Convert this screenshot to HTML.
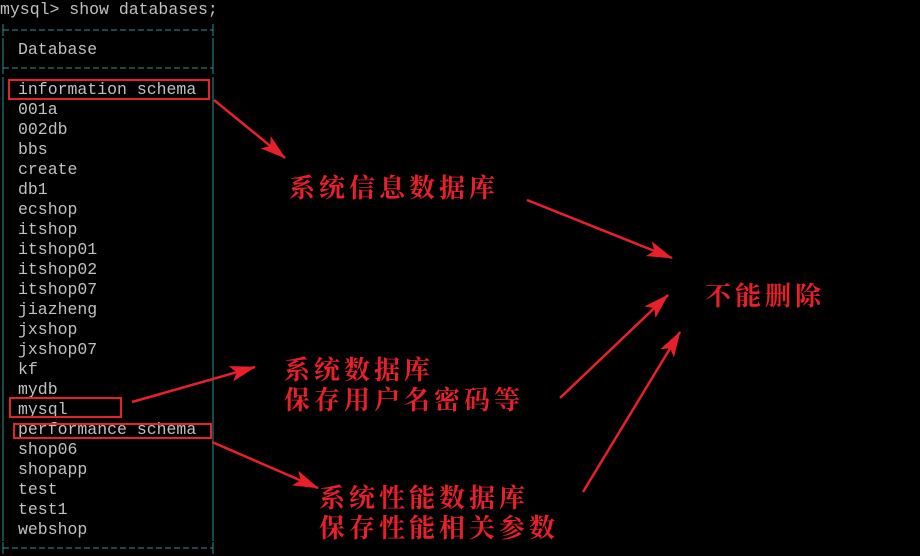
<!DOCTYPE html>
<html><head><meta charset="utf-8"><style>
body{margin:0;width:920px;height:556px;background:#000;overflow:hidden;position:relative;font-family:"Liberation Mono",monospace;}
.t{position:absolute;color:#c0c0c0;font-size:16.5px;line-height:20px;white-space:pre;}
.c{position:absolute;color:#e8202a;font-family:"Noto Serif CJK SC",serif;font-weight:bold;font-size:26px;letter-spacing:4px;line-height:30px;white-space:pre;}
svg{position:absolute;left:0;top:0;}
</style></head><body>
<div class="t" style="left:0;top:0">mysql&gt; show databases;</div>
<div class="t" style="left:18px;top:40px">Database</div>
<div class="t" style="left:18px;top:80px">information schema
001a
002db
bbs
create
db1
ecshop
itshop
itshop01
itshop02
itshop07
jiazheng
jxshop
jxshop07
kf
mydb
mysql
performance schema
shop06
shopapp
test
test1
webshop</div>
<svg width="920" height="556">
<g stroke="#2a8f90" stroke-width="1">
<line x1="3" y1="30" x2="213" y2="30" stroke-dasharray="6,3"/>
<line x1="3" y1="68" x2="213" y2="68" stroke-dasharray="6,3"/>
<line x1="3" y1="548" x2="213" y2="548" stroke-dasharray="6,3"/>
<line x1="3" y1="24" x2="3" y2="36"/><line x1="213" y1="24" x2="213" y2="36"/>
<line x1="3" y1="38" x2="3" y2="62"/><line x1="213" y1="38" x2="213" y2="62"/>
<line x1="3" y1="77" x2="3" y2="541"/><line x1="213" y1="77" x2="213" y2="541"/>
<line x1="3" y1="62" x2="3" y2="74"/><line x1="213" y1="62" x2="213" y2="74"/>
<line x1="3" y1="542" x2="3" y2="554"/><line x1="213" y1="542" x2="213" y2="554"/>
</g>
<g fill="none" stroke="#e8202a" stroke-width="2">
<rect x="9" y="80" width="200" height="19"/>
<rect x="10" y="398" width="111" height="19"/>
<rect x="14" y="424" width="197" height="14"/>
</g>
<defs>
<marker id="b" markerWidth="26" markerHeight="16" refX="25" refY="8" orient="auto" markerUnits="userSpaceOnUse"><path d="M0,0 L26,8 L0,16 L6,8 z" fill="#e8202a"/></marker></defs>
<g stroke="#e8202a" stroke-width="2.5" marker-end="url(#b)">
<line x1="214" y1="100" x2="285" y2="158"/>
<line x1="527" y1="200" x2="672" y2="258"/>
<line x1="560" y1="398" x2="668" y2="295"/>
<line x1="583" y1="492" x2="680" y2="332"/>
<line x1="132" y1="402" x2="255" y2="367"/>
<line x1="212" y1="442" x2="318" y2="488"/>
</g>
</svg>
<div class="c" style="left:289px;top:172px">系统信息数据库</div>
<div class="c" style="left:705px;top:280px">不能删除</div>
<div class="c" style="left:284px;top:354px">系统数据库
保存用户名密码等</div>
<div class="c" style="left:319px;top:482px">系统性能数据库
保存性能相关参数</div>
</body></html>
